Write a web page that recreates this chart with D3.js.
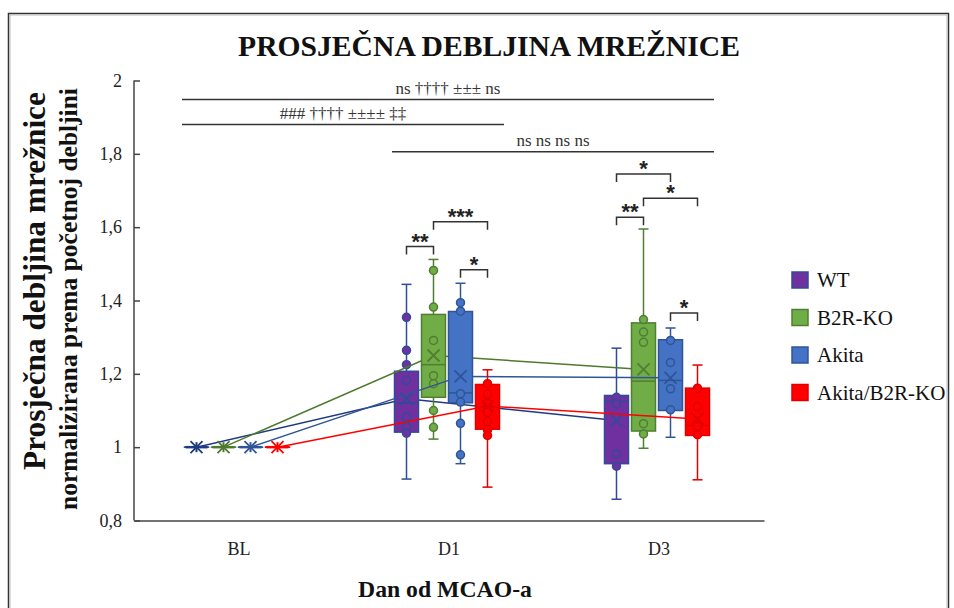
<!DOCTYPE html>
<html>
<head>
<meta charset="utf-8">
<script src="https://cdn.jsdelivr.net/npm/d3@7"></script>
<style>
  html, body { margin: 0; padding: 0; background: #fff; }
  svg { display: block; }
</style>
</head>
<body>
<svg id="chart" width="954" height="608" font-family="Liberation Serif, Times New Roman, serif"></svg>
<script>
// ---------- DATA ----------
const days = ["BL", "D1", "D3"];
const seriesNames = ["WT", "B2R-KO", "Akita", "Akita/B2R-KO"];
const yTicks = [0.8, 1, 1.2, 1.4, 1.6, 1.8, 2];

// stats per day: [min, q1, median, q3, max, mean]
const wtStats    = [[1,1,1,1,1,1], [0.913, 1.041, 1.120, 1.207, 1.444, 1.132], [0.858, 0.955, 1.125, 1.141, 1.270, 1.073]];
const b2rStats   = [[1,1,1,1,1,1], [1.022, 1.136, 1.225, 1.362, 1.512, 1.250], [0.997, 1.044, 1.180, 1.339, 1.595, 1.212]];
const akitaStats = [[1,1,1,1,1,1], [0.955, 1.121, 1.148, 1.370, 1.447, 1.193], [1.027, 1.100, 1.182, 1.293, 1.325, 1.189]];
const akb2Stats  = [[1,1,1,1,1,1], [0.891, 1.049, 1.110, 1.171, 1.211, 1.112], [0.911, 1.032, 1.059, 1.161, 1.224, 1.077]];

// individual points per day
const wtPoints    = [[], [1.354, 1.264, 1.225, 1.182, 1.082, 1.056, 1.038], [1.136, 1.118, 0.982, 0.948]];
const b2rPoints   = [[], [1.482, 1.382, 1.291, 1.195, 1.173, 1.100, 1.054], [1.348, 1.314, 1.286, 1.064, 1.036]];
const akitaPoints = [[], [1.394, 1.371, 1.146, 1.123, 1.065, 0.979], [1.291, 1.231, 1.159, 1.102]];
const akb2Points  = [[], [1.173, 1.145, 1.120, 1.095, 1.070, 1.047, 1.032], [1.161, 1.111, 1.057, 1.034]];

// pairwise significance brackets: [dayIndex, fromSeries, toSeries, yValue, label]
const brackets = [
  [1, 0, 1, 1.547, "**"],
  [1, 1, 3, 1.615, "***"],
  [1, 2, 3, 1.484, "*"],
  [2, 0, 2, 1.745, "*"],
  [2, 1, 3, 1.679, "*"],
  [2, 0, 1, 1.627, "**"],
  [2, 2, 3, 1.366, "*"]
];
// comparison lines across days: [fromDay, toDay, yValue, label]
const dayComparisons = [
  [0, 2, 1.948, "ns †††† ±±± ns"],
  [0, 1, 1.880, "### †††† ±±±± ‡‡"],
  [1, 2, 1.806, "ns ns ns ns"]
];

const titleText = "PROSJEČNA DEBLJINA MREŽNICE";
const yTitle = ["Prosječna debljina mrežnice", "normalizirana prema početnoj debljini"];
const xTitle = "Dan od MCAO-a";

// ---------- STYLE ----------
const fills   = ["#7030a0", "#70ad47", "#4472c4", "#ff0000"];
const strokes = ["#2f4b9a", "#507e32", "#2f5597", "#e00000"];
const lineCols = ["#1f3a80", "#4e7a2e", "#2f5597", "#ff0000"];
const SERIF = "Liberation Serif, Times New Roman, serif";

const allStats = [wtStats, b2rStats, akitaStats, akb2Stats];
const allPoints = [wtPoints, b2rPoints, akitaPoints, akb2Points];

const svg = d3.select("#chart");

// fit a text element's font size so that its length is the target width
function fit(sel, target, base) {
  sel.attr("font-size", base);
  const w = sel.node().getComputedTextLength();
  if (w > 0) sel.attr("font-size", (base * target / w).toFixed(2));
  return sel;
}

// outer frame
svg.append("rect").attr("x", 8.5).attr("y", 13.5).attr("width", 940).attr("height", 620)
  .attr("fill", "none").attr("stroke", "#333").attr("stroke-width", 1.5);
svg.append("rect").attr("x", 10).attr("y", 15).attr("width", 937).attr("height", 620)
  .attr("fill", "none").attr("stroke", "#bbb").attr("stroke-width", 1);

const x = d3.scaleBand().domain(days).range([134, 764]);
const xs = d3.scaleBand().domain(seriesNames).range([-56, 52]);
const y = d3.scaleLinear().domain([0.8, 2]).range([520.5, 80.5]);
const cx = (d, s) => x(days[d]) + x.bandwidth() / 2 + xs(seriesNames[s]) + xs.bandwidth() / 2;

// axes
const yAxis = d3.axisLeft(y).tickValues(yTicks).tickSize(-6).tickPadding(14)
  .tickFormat(v => d3.format("")(v).replace(".", ","));
const gy = svg.append("g").attr("transform", "translate(134,0)").call(yAxis);
gy.attr("font-family", SERIF);
gy.select(".domain").attr("stroke", "#444").attr("stroke-width", 1.5).attr("d", "M0,80.5V520.5");
gy.selectAll(".tick line").attr("stroke", "#444").attr("stroke-width", 1.5).attr("x2", 6);
gy.selectAll(".tick text").attr("font-size", 18).attr("fill", "#222").attr("x", -12);

const xAxis = d3.axisBottom(x).tickSize(0).tickPadding(22);
const gx = svg.append("g").attr("transform", "translate(0,520.5)").call(xAxis);
gx.attr("font-family", SERIF);
gx.select(".domain").attr("stroke", "#444").attr("stroke-width", 1.5);
gx.selectAll(".tick text").attr("font-size", 18).attr("fill", "#222");

// series
const cap = 5;
seriesNames.forEach((name, s) => {
  const g = svg.append("g");
  const st = allStats[s];
  const bw = 24;
  const line = d3.line().x((d, i) => cx(i, s)).y(d => y(d[5]));
  g.append("path").datum(st).attr("d", line).attr("fill", "none")
    .attr("stroke", lineCols[s]).attr("stroke-width", 1.5);
  st.forEach((d, di) => {
    const c = cx(di, s);
    g.append("line").attr("x1", c).attr("x2", c).attr("y1", y(d[4])).attr("y2", y(d[3]))
      .attr("stroke", strokes[s]).attr("stroke-width", 1.5);
    g.append("line").attr("x1", c).attr("x2", c).attr("y1", y(d[1])).attr("y2", y(d[0]))
      .attr("stroke", strokes[s]).attr("stroke-width", 1.5);
    [d[0], d[4]].forEach(v => g.append("line").attr("x1", c - cap).attr("x2", c + cap)
      .attr("y1", y(v)).attr("y2", y(v)).attr("stroke", strokes[s]).attr("stroke-width", 1.5));
    g.append("rect").attr("x", c - bw / 2).attr("width", bw)
      .attr("y", y(d[3])).attr("height", Math.max(0.01, y(d[1]) - y(d[3])))
      .attr("fill", fills[s]).attr("stroke", strokes[s]).attr("stroke-width", 1.5);
    g.append("line").attr("x1", c - bw / 2).attr("x2", c + bw / 2)
      .attr("y1", y(d[2])).attr("y2", y(d[2])).attr("stroke", strokes[s]).attr("stroke-width", 1.5);
    allPoints[s][di].forEach(v => {
      g.append("circle").attr("cx", c).attr("cy", y(v)).attr("r", 4)
        .attr("fill", fills[s]).attr("stroke", strokes[s]).attr("stroke-width", 1.5);
    });
    const m = 6, my = y(d[5]);
    g.append("path").attr("d", `M${c - m},${my - m}L${c + m},${my + m}M${c - m},${my + m}L${c + m},${my - m}`)
      .attr("stroke", di === 0 ? lineCols[s] : strokes[s]).attr("stroke-width", 1.8).attr("fill", "none");
    if (di === 0) {
      g.append("line").attr("x1", c - 11).attr("x2", c + 11).attr("y1", my).attr("y2", my)
        .attr("stroke", lineCols[s]).attr("stroke-width", 2.5);
      g.append("line").attr("x1", c).attr("x2", c).attr("y1", my - 5).attr("y2", my + 5)
        .attr("stroke", lineCols[s]).attr("stroke-width", 2);
    }
  });
});

// brackets
brackets.forEach(([d, a, b, v, lab]) => {
  const x1 = cx(d, a), x2 = cx(d, b), yy = y(v);
  svg.append("path").attr("d", `M${x1},${yy + 8}V${yy}H${x2}V${yy + 8}`)
    .attr("fill", "none").attr("stroke", "#333").attr("stroke-width", 1.5);
  svg.append("text").attr("x", (x1 + x2) / 2).attr("y", yy + 2).attr("text-anchor", "middle")
    .attr("font-family", "Liberation Sans, Arial, sans-serif").attr("font-size", 22).attr("font-weight", "bold")
    .attr("fill", "#222").text(lab);
});

// day comparison lines
dayComparisons.forEach(([a, b, v, lab]) => {
  const x1 = x(days[a]) + x.bandwidth() / 2 - 57;
  const x2 = x(days[b]) + x.bandwidth() / 2 + 55;
  const yy = y(v);
  svg.append("line").attr("x1", x1).attr("x2", x2).attr("y1", yy).attr("y2", yy)
    .attr("stroke", "#333").attr("stroke-width", 1.5);
  svg.append("text").attr("x", (x1 + x2) / 2).attr("y", yy - 6).attr("text-anchor", "middle")
    .attr("font-family", SERIF).attr("font-size", 17).attr("fill", "#333").text(lab);
});

// title
fit(svg.append("text").attr("x", 489).attr("y", 56).attr("text-anchor", "middle")
  .attr("font-family", SERIF).attr("font-weight", "bold").attr("fill", "#111").text(titleText), 502, 26);

// y title
const yT1 = svg.append("text").attr("transform", "translate(45,281) rotate(-90)")
  .attr("text-anchor", "middle").attr("font-family", SERIF).attr("font-weight", "bold").attr("fill", "#111").text(yTitle[0]);
fit(yT1, 378, 21);
const yT2 = svg.append("text").attr("transform", "translate(77,299) rotate(-90)")
  .attr("text-anchor", "middle").attr("font-family", SERIF).attr("font-weight", "bold").attr("fill", "#111").text(yTitle[1]);
fit(yT2, 422, 21);

// x title
fit(svg.append("text").attr("x", 445).attr("y", 597).attr("text-anchor", "middle")
  .attr("font-family", SERIF).attr("font-weight", "bold").attr("fill", "#111").text(xTitle), 174, 21);

// legend
seriesNames.forEach((n, i) => {
  const ly = 280 + i * 37.5;
  svg.append("rect").attr("x", 792).attr("y", ly - 8).attr("width", 16).attr("height", 16)
    .attr("fill", fills[i]).attr("stroke", strokes[i]).attr("stroke-width", 1.5);
  svg.append("text").attr("x", 817).attr("y", ly + 7).attr("font-family", SERIF)
    .attr("font-size", 21).attr("fill", "#111").text(n);
});
</script>
</body>
</html>
